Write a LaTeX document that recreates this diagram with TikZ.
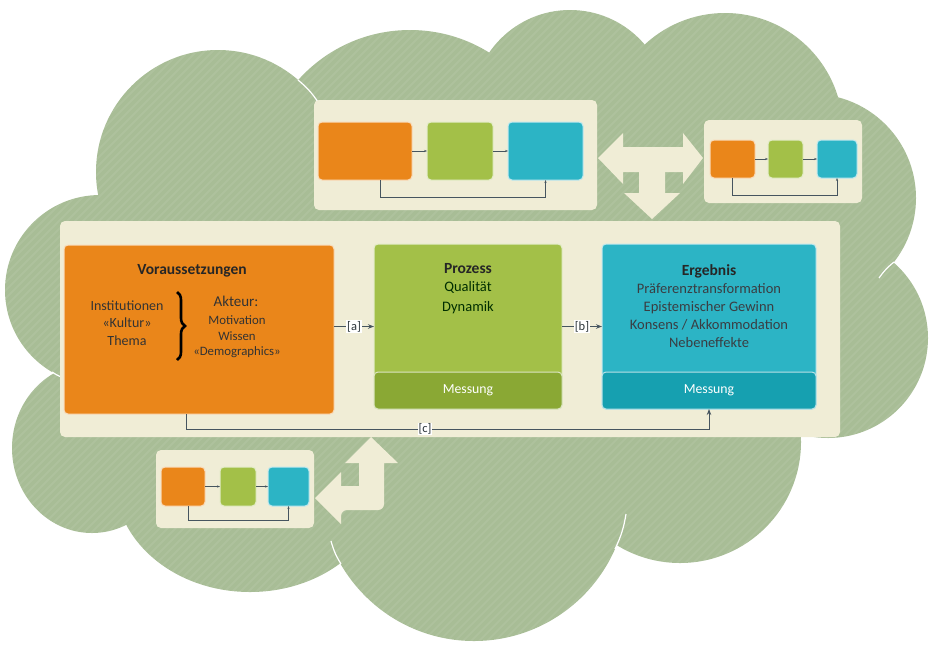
\documentclass[tikz,border=0pt]{standalone}
\usepackage{fontspec}
\setmainfont{Carlito}
\usetikzlibrary{arrows.meta, positioning, decorations.pathreplacing}

\definecolor{cloudgreen}{RGB}{168,189,150}
\definecolor{panelcream}{RGB}{240,237,214}
\definecolor{boxorange}{RGB}{234,134,26}
\definecolor{boxgreen}{RGB}{163,192,72}
\definecolor{boxteal}{RGB}{44,180,197}
\definecolor{bandgreen}{RGB}{138,168,52}
\definecolor{bandteal}{RGB}{22,160,176}
\definecolor{linkgray}{RGB}{70,85,95}

\tikzset{
  panel/.style={fill=panelcream, rounded corners=5pt, inner sep=0pt, outer sep=0pt, anchor=north west},
  block/.style={draw=white!70!#1, fill=#1, line width=1pt, rounded corners=4pt, inner sep=0pt, outer sep=0pt, anchor=north west},
  link/.style={draw=linkgray, line width=0.9pt, -{Stealth[length=6pt]}},
  minilink/.style={draw=linkgray, line width=0.7pt, -{Stealth[length=3pt]}},
  tag/.style={fill=white, inner sep=1pt, text=linkgray!60!black, font=\fontsize{12.5}{14}\selectfont},
  bigarrow/.style={fill=panelcream, draw=none},
  seam/.style={white, line width=1.2pt}
}

\begin{document}
\begin{tikzpicture}[x=1pt, y=-1pt]
  \useasboundingbox (0,0) rectangle (933,649);

  % Cloud
  \def\lobes{218/172/122, 410/180/150, 570/108/98, 725/131/118, 812/198/104,
             828/338/100, 680/442/121, 474/487/154, 100/290/95}
  \foreach \cx/\cy/\r in \lobes {
    \fill[cloudgreen] (\cx,\cy) circle[radius=\r pt];
  }
  \fill[cloudgreen] (250,480) ellipse[x radius=135pt, y radius=112pt];
  \fill[cloudgreen] (92,448) ellipse[x radius=80pt, y radius=85pt];
  \fill[cloudgreen] (450,320) ellipse[x radius=380pt, y radius=200pt];
  \begin{scope}
    \clip \foreach \cx/\cy/\r in \lobes { (\cx,\cy) circle[radius=\r pt] }
      (250,480) ellipse[x radius=135pt, y radius=112pt]
      (92,448) ellipse[x radius=80pt, y radius=85pt]
      (450,320) ellipse[x radius=380pt, y radius=200pt];
    \foreach \i in {-700,-692,...,940} {
      \draw[white, opacity=0.07, line width=1.8pt] (\i,660) -- (\i+660,0);
    }
  \end{scope}
  \draw[seam] (298,80) to[bend left=8] (318,102);
  \draw[seam] (894,262) to[bend right=8] (879,278);
  \draw[seam] (615,549) to[bend right=8] (626,514);
  \draw[seam] (341,564) to[bend left=8] (331,541);
  \draw[seam] (52,372) to[bend right=8] (67,379);

  % Big T-shaped and bent arrows
  \fill[bigarrow] (598,158) -- (623,133) -- (623,147) -- (683,147) -- (683,133)
    -- (703,158) -- (683,184) -- (683,172) -- (665,172) -- (665,193) -- (680,193)
    -- (652,219) -- (624,193) -- (639,193) -- (639,172) -- (623,172) -- (623,184) -- cycle;
  \fill[bigarrow] (371,437) -- (398,463) -- (384,463) -- (384,504)
    [rounded corners=6pt] -- (384,510) -- (341,510) [sharp corners] -- (341,524)
    -- (315,498) -- (341,472) -- (341,486) -- (359,486) -- (359,463) -- (345,463) -- cycle;

  % Panels
  \node[panel, minimum width=780pt, minimum height=216pt] (main) at (60,221) {};
  \node[panel, minimum width=283pt, minimum height=110pt] (top) at (314,100) {};
  \node[panel, minimum width=158pt, minimum height=83pt] (right) at (704,120) {};
  \node[panel, minimum width=158pt, minimum height=78pt] (low) at (156,450) {};

  % Main blocks
  \node[block=boxorange, minimum width=270pt, minimum height=169pt] (vor) at (64,245) {};
  \node[block=boxgreen, minimum width=188pt, minimum height=165pt] (pro) at (374,244) {};
  \node[block=boxteal, minimum width=214pt, minimum height=165pt] (erg) at (602,244) {};
  \node[block=bandgreen, minimum width=188pt, minimum height=37pt] (promess) at (374,372) {};
  \node[block=bandteal, minimum width=214pt, minimum height=37pt] (ergmess) at (602,372) {};

  % Texts
  \node[font=\bfseries\fontsize{15.5}{18}\selectfont, text=black!85] (vortitle) at (192,271) {Voraussetzungen};
  \node[align=center, font=\fontsize{14}{17.5}\selectfont, text=black!80] (vorleft) at (127,323)
    {Institutionen\\«Kultur»\\Thema};
  \draw[decorate, decoration={brace, amplitude=8pt}, line width=2.6pt] (177,292) -- (177,360);
  \node[font=\fontsize{15}{17}\selectfont, text=black!80] (akteur) at (236,301) {Akteur:};
  \node[align=center, font=\fontsize{12.8}{15.5}\selectfont, text=black!80] (vorright) at (237,337)
    {Motivation\\Wissen\\«Demographics»};

  \node[font=\bfseries\fontsize{15.5}{18}\selectfont, text=black!85] (protitle) at (468,269) {Prozess};
  \node[align=center, font=\fontsize{14.5}{20}\selectfont, text=black!70!green!60!black] (probody) at (468,298)
    {Qualität\\Dynamik};

  \node[font=\bfseries\fontsize{15.5}{18}\selectfont, text=black!85] (ergtitle) at (709,271) {Ergebnis};
  \node[align=center, font=\fontsize{14.5}{17.7}\selectfont, text=black!70!cyan!50!black] (ergbody) at (709,315.5)
    {Präferenztransformation\\Epistemischer Gewinn\\Konsens / Akkommodation\\Nebeneffekte};

  \node[font=\fontsize{13.8}{16}\selectfont, text=white] (promesstext) at (promess.center) {Messung};
  \node[font=\fontsize{13.8}{16}\selectfont, text=white] (ergmesstext) at (ergmess.center) {Messung};

  % Main connectors
  \draw[link] (vor.east |- pro.west) -- node[tag] (atag) {[a]} (pro.west);
  \draw[link] (pro.east) -- node[tag] (btag) {[b]} (erg.west);
  \draw[link] ([xshift=-13pt]vor.south) -- ++(0,15) coordinate (cl)
    -- node[tag, pos=0.457] (ctag) {[c]} (cl -| erg.south) -- (erg.south);

  % Small flow, top
  \node[block=boxorange, minimum width=94pt, minimum height=58pt] (t1o) at (318,122) {};
  \node[block=boxgreen, minimum width=66pt, minimum height=58pt] (t1g) at (427,122) {};
  \node[block=boxteal, minimum width=75pt, minimum height=58pt] (t1t) at (508,122) {};
  \draw[minilink] (t1o) -- (t1g);
  \draw[minilink] (t1g) -- (t1t);
  \draw[minilink] ([xshift=15pt]t1o.south) -- ++(0,17) -| (t1t.south);

  % Small flow, right
  \node[block=boxorange, minimum width=45pt, minimum height=38pt] (t2o) at (710,140) {};
  \node[block=boxgreen, minimum width=35pt, minimum height=38pt] (t2g) at (768,140) {};
  \node[block=boxteal, minimum width=40pt, minimum height=38pt] (t2t) at (817,140) {};
  \draw[minilink] (t2o) -- (t2g);
  \draw[minilink] (t2g) -- (t2t);
  \draw[minilink] (t2o.south) -- ++(0,17) -| (t2t.south);

  % Small flow, bottom
  \node[block=boxorange, minimum width=44pt, minimum height=39pt] (t3o) at (161,467) {};
  \node[block=boxgreen, minimum width=36pt, minimum height=39pt] (t3g) at (220,467) {};
  \node[block=boxteal, minimum width=41pt, minimum height=39pt] (t3t) at (268,467) {};
  \draw[minilink] (t3o) -- (t3g);
  \draw[minilink] (t3g) -- (t3t);
  \draw[minilink] ([xshift=5pt]t3o.south) -- ++(0,14) -| (t3t.south);
\end{tikzpicture}
\end{document}
